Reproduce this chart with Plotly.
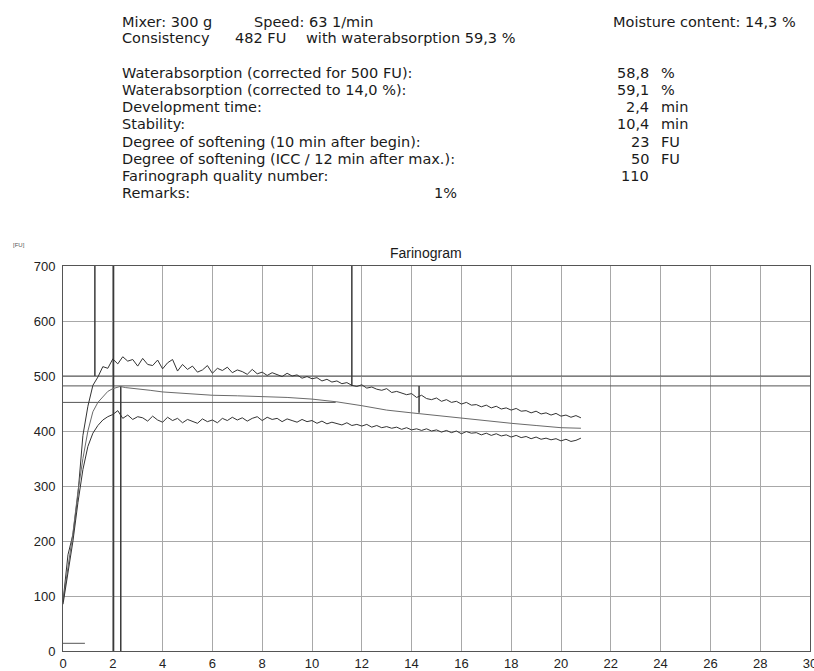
import plotly.graph_objects as go

# ---------------- data ----------------
T_NOISY = [0.0, 0.2, 0.4, 0.6, 0.8, 1.0, 1.2, 1.4, 1.6, 1.8, 2.0, 2.2, 2.4, 2.6, 2.8,
           3.0, 3.2, 3.4, 3.6, 3.8, 4.0, 4.2, 4.4, 4.6, 4.8, 5.0, 5.2, 5.4, 5.6, 5.8,
           6.0, 6.2, 6.4, 6.6, 6.8, 7.0, 7.2, 7.4, 7.6, 7.8, 8.0, 8.2, 8.4, 8.6, 8.8,
           9.0, 9.2, 9.4, 9.6, 9.8, 10.0, 10.2, 10.4, 10.6, 10.8, 11.0, 11.2, 11.4, 11.6, 11.8,
           12.0, 12.2, 12.4, 12.6, 12.8, 13.0, 13.2, 13.4, 13.6, 13.8, 14.0, 14.2, 14.4, 14.6, 14.8,
           15.0, 15.2, 15.4, 15.6, 15.8, 16.0, 16.2, 16.4, 16.6, 16.8, 17.0, 17.2, 17.4, 17.6, 17.8,
           18.0, 18.2, 18.4, 18.6, 18.8, 19.0, 19.2, 19.4, 19.6, 19.8, 20.0, 20.2, 20.4, 20.6, 20.8]

UPPER = [90, 175, 212, 285, 392, 445, 483, 498, 517, 514, 531, 522, 535, 527, 530,
         518, 532, 521, 519, 529, 513, 524, 530, 509, 521, 512, 518, 507, 511, 519,
         505, 514, 510, 516, 506, 511, 508, 503, 512, 504, 507, 501, 506, 503, 499,
         505, 500, 502, 496, 499, 495, 497, 491, 494, 489, 491, 486, 488, 483, 481,
         484, 478, 480, 476, 474, 477, 470, 472, 469, 466, 468, 461, 465, 459, 457,
         460, 454, 457, 452, 454, 449, 452, 447, 448, 444, 447, 442, 445, 440, 442,
         438, 441, 436, 437, 433, 436, 431, 433, 429, 432, 427, 429, 425, 428, 424]

LOWER = [85, 140, 200, 270, 330, 372, 396, 410, 420, 426, 430, 437, 423, 429, 421,
         426, 424, 418, 427, 420, 416, 425, 419, 423, 415, 421, 418, 414, 422, 417,
         420, 415, 423, 419, 425, 420, 424, 418, 423, 426, 419, 425, 421, 423, 417,
         422, 419, 416, 421, 417, 419, 414, 418, 413, 416, 414, 411, 415, 410, 412,
         409, 412, 407, 410, 406, 408, 405, 407, 403, 406, 402, 404, 401, 404, 400,
         402, 398, 401, 397, 400, 395, 399, 396, 397, 393, 396, 392, 395, 391, 393,
         389, 392, 388, 390, 386, 389, 385, 387, 384, 386, 382, 385, 381, 383, 387]

T_MID = [0.0, 0.2, 0.4, 0.6, 0.8, 1.0, 1.2, 1.4, 1.6, 1.8, 2.0, 2.2, 2.3, 2.5, 3.0,
         3.5, 4.0, 5.0, 6.0, 7.0, 8.0, 9.0, 10.0, 11.0, 12.0, 13.0, 14.0, 15.0, 16.0,
         17.0, 18.0, 19.0, 20.0, 20.8]
MIDDLE = [90, 150, 215, 290, 350, 400, 435, 452, 463, 472, 477, 480, 481, 479, 477,
          474, 471, 468, 465, 464, 463, 461, 458, 453, 446, 438, 433, 428, 423,
          418, 414, 410, 406, 405]

# marker lines (time, FU from, FU to)
MARK_T = [1.28, 2.03, 2.32, 11.6, 14.3]
MARK_FROM = [500, 0, 0, 482, 433]
MARK_TO = [700, 700, 482, 700, 482]

# horizontal reference lines (FU, start, end)
HREF_FU = [500, 482, 452, 14]
HREF_T0 = [0, 0, 0, 0]
HREF_T1 = [30, 30, 10.95, 0.88]

X_TICKS = list(range(0, 31, 2))
Y_TICKS = list(range(0, 701, 100))

HEADER_ROWS = [
    ("Waterabsorption (corrected for 500 FU):", "58,8", "%"),
    ("Waterabsorption (corrected to 14,0 %):", "59,1", "%"),
    ("Development time:", "2,4", "min"),
    ("Stability:", "10,4", "min"),
    ("Degree of softening (10 min after begin):", "23", "FU"),
    ("Degree of softening (ICC / 12 min after max.):", "50", "FU"),
    ("Farinograph quality number:", "110", ""),
    ("Remarks:", "", ""),
]

# ---------------- figure ----------------
W, H = 814, 671
ML, MR, MT, MB = 63, 4, 266, 20
PW, PH = W - ML - MR, H - MT - MB


def px(xp):
    return (xp - ML) / PW


def py(yp):
    return (H - MB - yp) / PH


fig = go.Figure()

for fu, t0, t1 in zip(HREF_FU, HREF_T0, HREF_T1):
    fig.add_trace(go.Scatter(x=[t0, t1], y=[fu, fu], mode="lines",
                             line=dict(color="#555555", width=1), hoverinfo="skip"))

for t, a, b in zip(MARK_T, MARK_FROM, MARK_TO):
    fig.add_trace(go.Scatter(x=[t, t], y=[a, b], mode="lines",
                             line=dict(color="#3a3a3a", width=1.5), hoverinfo="skip"))

fig.add_trace(go.Scatter(x=T_NOISY, y=UPPER, mode="lines",
                         line=dict(color="#333333", width=1)))
fig.add_trace(go.Scatter(x=T_MID, y=MIDDLE, mode="lines",
                         line=dict(color="#6a6a6a", width=1)))
fig.add_trace(go.Scatter(x=T_NOISY, y=LOWER, mode="lines",
                         line=dict(color="#333333", width=1)))

FONT = "Liberation Sans, Arial, sans-serif"
HFONT = "DejaVu Sans, Liberation Sans, sans-serif"
TXT = "#1a1a1a"
HS = 14.5

ann = []


def add_text(text, x, y, xanchor="left", size=HS, color=TXT, family=HFONT):
    ann.append(dict(text=text, x=px(x), y=py(y), xref="paper", yref="paper",
                    xanchor=xanchor, yanchor="middle", showarrow=False,
                    borderpad=0,
                    font=dict(family=family, size=size, color=color)))


add_text("Mixer: 300 g", 121, 22)
add_text("Speed: 63 1/min", 253, 22)
add_text("Moisture content: 14,3 %", 612, 22)
add_text("Consistency", 121, 38)
add_text("482 FU", 234, 38)
add_text("with waterabsorption 59,3 %", 305, 38)

row_y = [73, 90, 107, 124, 142, 159, 176, 193]
for (lab, val, unit), yy in zip(HEADER_ROWS, row_y):
    add_text(lab, 121, yy)
    if val:
        add_text(val, 650, yy, xanchor="right")
    if unit:
        add_text(unit, 660, yy)
add_text("1%", 433, 193)

add_text("Farinogram", 426, 253, xanchor="center", size=14, family=FONT)
add_text("[FU]", 12, 245, size=6, color="#555555", family=FONT)

axis_common = dict(showgrid=True, gridcolor="#a8a8a8", gridwidth=1,
                   showline=True, linecolor="#555555", linewidth=1, mirror=True,
                   zeroline=False, ticks="", automargin=False,
                   ticklabeloverflow="allow",
                   tickfont=dict(family=FONT, size=13, color="#222222"))

fig.update_layout(
    width=W, height=H,
    margin=dict(l=ML, r=MR, t=MT, b=MB, autoexpand=False),
    paper_bgcolor="white", plot_bgcolor="white",
    showlegend=False,
    annotations=ann,
    xaxis=dict(range=[0, 30], tickvals=X_TICKS, ticktext=[str(v) for v in X_TICKS],
               **axis_common),
    yaxis=dict(range=[0, 700], tickvals=Y_TICKS, ticktext=[str(v) for v in Y_TICKS],
               ticklabelstandoff=4, **axis_common),
)

fig.write_html("out.html",
               config={"displayModeBar": False},
               post_script="document.body.style.margin='0';"
                           "document.body.style.overflow='hidden';")
